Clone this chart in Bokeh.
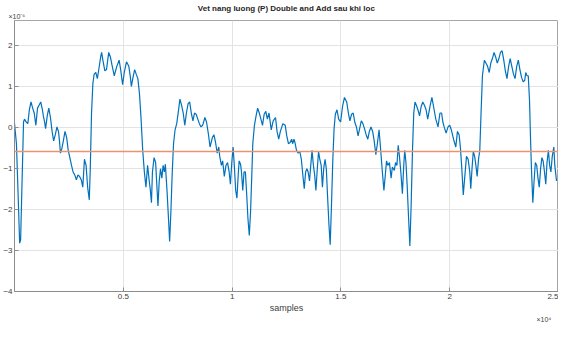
from bokeh.plotting import figure
from bokeh.models import Span, Label, Range1d, FixedTicker
from bokeh.embed import file_html
from bokeh.resources import INLINE

TITLE = "Vet nang luong (P) Double and Add sau khi loc"
X_LABEL = "samples"
X_TICKS = [5000, 10000, 15000, 20000, 25000]
X_TICK_LABELS = ["0.5", "1", "1.5", "2", "2.5"]
Y_TICKS = [-4, -3, -2, -1, 0, 1, 2]
X_EXP = "×10⁴"
Y_EXP = "×10⁻⁶"
THRESHOLD = -0.58

SAMPLE_X = [
    0, 89, 165, 237, 281, 415, 460, 536, 612, 683, 759, 835, 906, 982, 1058, 1129, 1205, 1281, 1326, 1384,
    1428, 1504, 1576, 1652, 1728, 1799, 1875, 1951, 2022, 2067, 2111, 2174, 2245, 2321, 2397, 2469, 2544,
    2620, 2692, 2768, 2844, 2915, 2991, 3067, 3138, 3214, 3290, 3361, 3437, 3482, 3540, 3602, 3660, 3736,
    3808, 3884, 3960, 4004, 4062, 4152, 4227, 4330, 4406, 4477, 4585, 4701, 4808, 4879, 4968, 5044, 5147,
    5254, 5326, 5370, 5446, 5522, 5593, 5669, 5745, 5817, 5892, 5968, 6040, 6116, 6192, 6236, 6294, 6339,
    6415, 6486, 6531, 6593, 6651, 6709, 6772, 6830, 6888, 6933, 7008, 7084, 7129, 7187, 7245, 7308, 7379,
    7455, 7531, 7602, 7678, 7754, 7825, 7901, 7977, 8049, 8125, 8200, 8272, 8348, 8424, 8495, 8571, 8647,
    8750, 8825, 8915, 8986, 9093, 9165, 9240, 9316, 9388, 9432, 9508, 9566, 9642, 9718, 9790, 9865, 9923,
    9986, 10044, 10102, 10164, 10222, 10281, 10325, 10388, 10432, 10490, 10549, 10611, 10669, 10727, 10790,
    10848, 10906, 10951, 11026, 11102, 11174, 11249, 11325, 11397, 11473, 11549, 11620, 11696, 11798, 11888,
    11995, 12066, 12142, 12218, 12334, 12441, 12513, 12589, 12664, 12736, 12781, 12843, 12888, 12959, 13035,
    13111, 13182, 13258, 13316, 13379, 13437, 13495, 13557, 13615, 13673, 13736, 13794, 13852, 13915, 13973,
    14031, 14094, 14151, 14209, 14272, 14330, 14388, 14450, 14508, 14566, 14629, 14687, 14745, 14821, 14897,
    14986, 15075, 15164, 15267, 15343, 15414, 15490, 15566, 15637, 15713, 15789, 15861, 15937, 16012, 16084,
    16160, 16236, 16307, 16383, 16459, 16530, 16606, 16682, 16754, 16829, 16905, 16977, 17053, 17097, 17155,
    17231, 17307, 17365, 17454, 17513, 17575, 17633, 17691, 17754, 17826, 17888, 17933, 17990, 18049, 18111,
    18169, 18227, 18290, 18348, 18406, 18468, 18540, 18615, 18691, 18763, 18838, 18914, 18990, 19093, 19182,
    19285, 19361, 19463, 19553, 19628, 19686, 19745, 19834, 19923, 19999, 20075, 20177, 20280, 20356, 20432,
    20490, 20548, 20624, 20700, 20771, 20847, 20923, 20968, 21025, 21084, 21147, 21204, 21262, 21325, 21383,
    21441, 21504, 21593, 21664, 21740, 21816, 21888, 21963, 22039, 22111, 22186, 22262, 22334, 22409, 22485,
    22557, 22632, 22708, 22780, 22855, 22931, 23003, 23079, 23154, 23226, 23302, 23378, 23449, 23494, 23552,
    23610, 23668, 23713, 23757, 23820, 23878, 23936, 23999, 24057, 24115, 24178, 24236, 24294, 24356, 24415,
    24472, 24535, 24593, 24650, 24713, 24785, 24830, 24910,
]

SIGNAL = [
    0.11, -0.39, -1.61, -2.82, -2.74, 0.14, 0.21, 0.14, 0.10, 0.44, 0.63, 0.48, 0.36, 0.06, 0.48, 0.55, 0.63, 0.44, 0.29, 0.14,
    -0.02, 0.29, 0.48, 0.25, -0.09, -0.32, -0.17, 0.02, -0.09, -0.32, -0.62, -0.51, -0.32, -0.09, -0.24, -0.55, -0.73,
    -0.92, -1.08, -1.15, -1.27, -1.15, -1.19, -1.27, -1.45, -0.77, -0.92, -1.45, -1.76, -1.00, 0.36, 1.08, 1.31, 1.35,
    1.20, 1.46, 1.73, 1.84, 1.65, 1.39, 1.42, 1.84, 1.73, 1.54, 1.27, 1.50, 1.65, 1.42, 1.05, 1.35, 1.61,
    1.50, 1.23, 1.01, 1.23, 1.42, 1.31, 1.20, 0.82, 0.21, -0.55, -1.08, -1.45, -0.92, -1.30, -1.49, -1.83, -1.08,
    -0.73, -0.85, -1.30, -1.91, -1.30, -1.00, -1.23, -0.92, -1.08, -0.89, -1.53, -2.29, -2.78, -2.06, -1.15, -0.39, -0.05,
    0.10, 0.40, 0.70, 0.55, 0.36, 0.06, 0.36, 0.59, 0.63, 0.36, 0.17, 0.36, 0.33, 0.21, 0.10, 0.02, 0.06,
    0.25, 0.14, -0.17, -0.47, -0.24, -0.17, -0.36, -0.62, -0.47, -0.70, -0.92, -0.81, -1.19, -0.92, -0.85, -1.08, -1.38,
    -0.85, -0.47, -0.92, -1.53, -1.72, -1.15, -0.81, -0.89, -1.08, -1.53, -1.08, -1.08, -1.61, -2.21, -2.63,
    -2.06, -1.15, -0.39, 0.06, 0.29, 0.48, 0.36, 0.21, 0.06, 0.33, 0.40, 0.21, 0.36, -0.05, 0.17,
    0.25, -0.09, -0.28, -0.09, 0.10, 0.06, -0.20, -0.39, -0.36, -0.28, -0.39, -0.28, -0.36, -0.55, -0.62,
    -0.58, -0.77, -1.19, -1.49, -1.08, -1.00, -1.08, -1.30, -0.92, -0.55, -0.92, -1.15, -1.53, -1.00, -0.58,
    -0.77, -0.92, -1.45, -1.00, -0.77, -1.00, -1.68, -2.36, -2.86, -1.91, -0.77, -0.02, 0.33, 0.44, 0.21,
    0.14, 0.52, 0.74, 0.63, 0.36, 0.17, 0.33, 0.36, 0.14, 0.02, -0.20, -0.02, 0.17, 0.10, -0.02,
    -0.17, -0.28, -0.09, 0.02, -0.09, -0.32, -0.66, -0.36, -0.05, -0.55, -1.08, -1.53, -1.08, -0.81, -0.92,
    -0.85, -1.23, -0.96, -1.04, -0.85, -0.92, -0.43, -0.70, -1.08, -1.61, -0.92, -0.55, -0.85, -1.45, -2.21,
    -2.89, -1.91, -0.55, 0.36, 0.63, 0.55, 0.44, 0.29, 0.52, 0.63, 0.55, 0.44, 0.21, 0.52, 0.74,
    0.44, 0.21, 0.02, 0.36, 0.36, 0.14, 0.02, -0.13, 0.02, 0.06, -0.05, -0.28, -0.47, -0.09, -0.17,
    -0.47, -0.92, -1.64, -1.15, -0.70, -0.77, -1.08, -1.49, -1.00, -0.58, -0.70, -0.92, -1.19, -0.77, -0.55,
    0.36, 1.27, 1.65, 1.58, 1.50, 1.35, 1.58, 1.69, 1.84, 1.73, 1.58, 1.69, 1.84, 1.88, 1.65,
    1.39, 1.20, 1.50, 1.69, 1.50, 1.31, 1.20, 1.50, 1.65, 1.42, 1.23, 1.12, 1.16, 1.35, 1.27,
    1.27, 0.67, -0.24, -1.00, -1.83, -1.30, -0.85, -0.92, -1.23, -1.45, -1.00, -0.73, -0.81, -1.08, -1.38,
    -0.85, -0.55, -0.92, -1.08, -0.70, -0.47, -0.92, -1.30,
]

FONT = "Liberation Sans"

p = figure(width=558, height=322, output_backend="svg", toolbar_location=None,
           x_range=Range1d(0, 25000), y_range=Range1d(-4, 2.62))

p.min_border_left = 0
p.min_border_right = 0
p.min_border_top = 12
p.min_border_bottom = 0
p.background_fill_color = "white"
p.border_fill_color = "white"
p.outline_line_color = "#a6a6a6"

p.title.text = TITLE
p.title.align = "center"
p.title.text_font = FONT
p.title.text_font_size = "8px"
p.title.text_font_style = "bold"
p.title.text_color = "#262626"
p.title.standoff = 2
p.title.offset = 0

p.xaxis.ticker = FixedTicker(ticks=X_TICKS)
p.xaxis.major_label_overrides = {t: l for t, l in zip(X_TICKS, X_TICK_LABELS)}
p.yaxis.ticker = FixedTicker(ticks=Y_TICKS)
p.xaxis.axis_label = X_LABEL

for ax in (p.xaxis, p.yaxis):
    ax.minor_tick_line_color = None
    ax.major_tick_in = 4
    ax.major_tick_out = 0
    ax.axis_line_color = "#8c8c8c"
    ax.major_tick_line_color = "#8c8c8c"
    ax.major_label_text_font = FONT
    ax.major_label_text_font_size = "8px"
    ax.major_label_text_color = "#404040"
    ax.major_label_standoff = 2
    ax.axis_label_text_font = FONT
    ax.axis_label_text_font_size = "9px"
    ax.axis_label_text_font_style = "normal"
    ax.axis_label_text_color = "#404040"
    ax.axis_label_standoff = 1

p.xgrid.ticker = FixedTicker(ticks=X_TICKS)
p.ygrid.ticker = FixedTicker(ticks=Y_TICKS)
p.grid.grid_line_color = "#e3e3e3"

p.line(SAMPLE_X, SIGNAL, line_color="#0072BD", line_width=1.2)
p.add_layout(Span(location=THRESHOLD, dimension="width", line_color="#EC9270", line_width=1.4))

p.add_layout(Label(x=-6, y=1, x_units="screen", y_units="screen", text=Y_EXP, text_font=FONT,
                   text_font_size="7px", text_color="#404040"), "above")
p.add_layout(Label(x=522, y=0, x_units="screen", y_units="screen", text=X_EXP, text_font=FONT,
                   text_font_size="7px", text_color="#404040", text_baseline="bottom"), "below")

open("out.html", "w").write(file_html(p, INLINE))
